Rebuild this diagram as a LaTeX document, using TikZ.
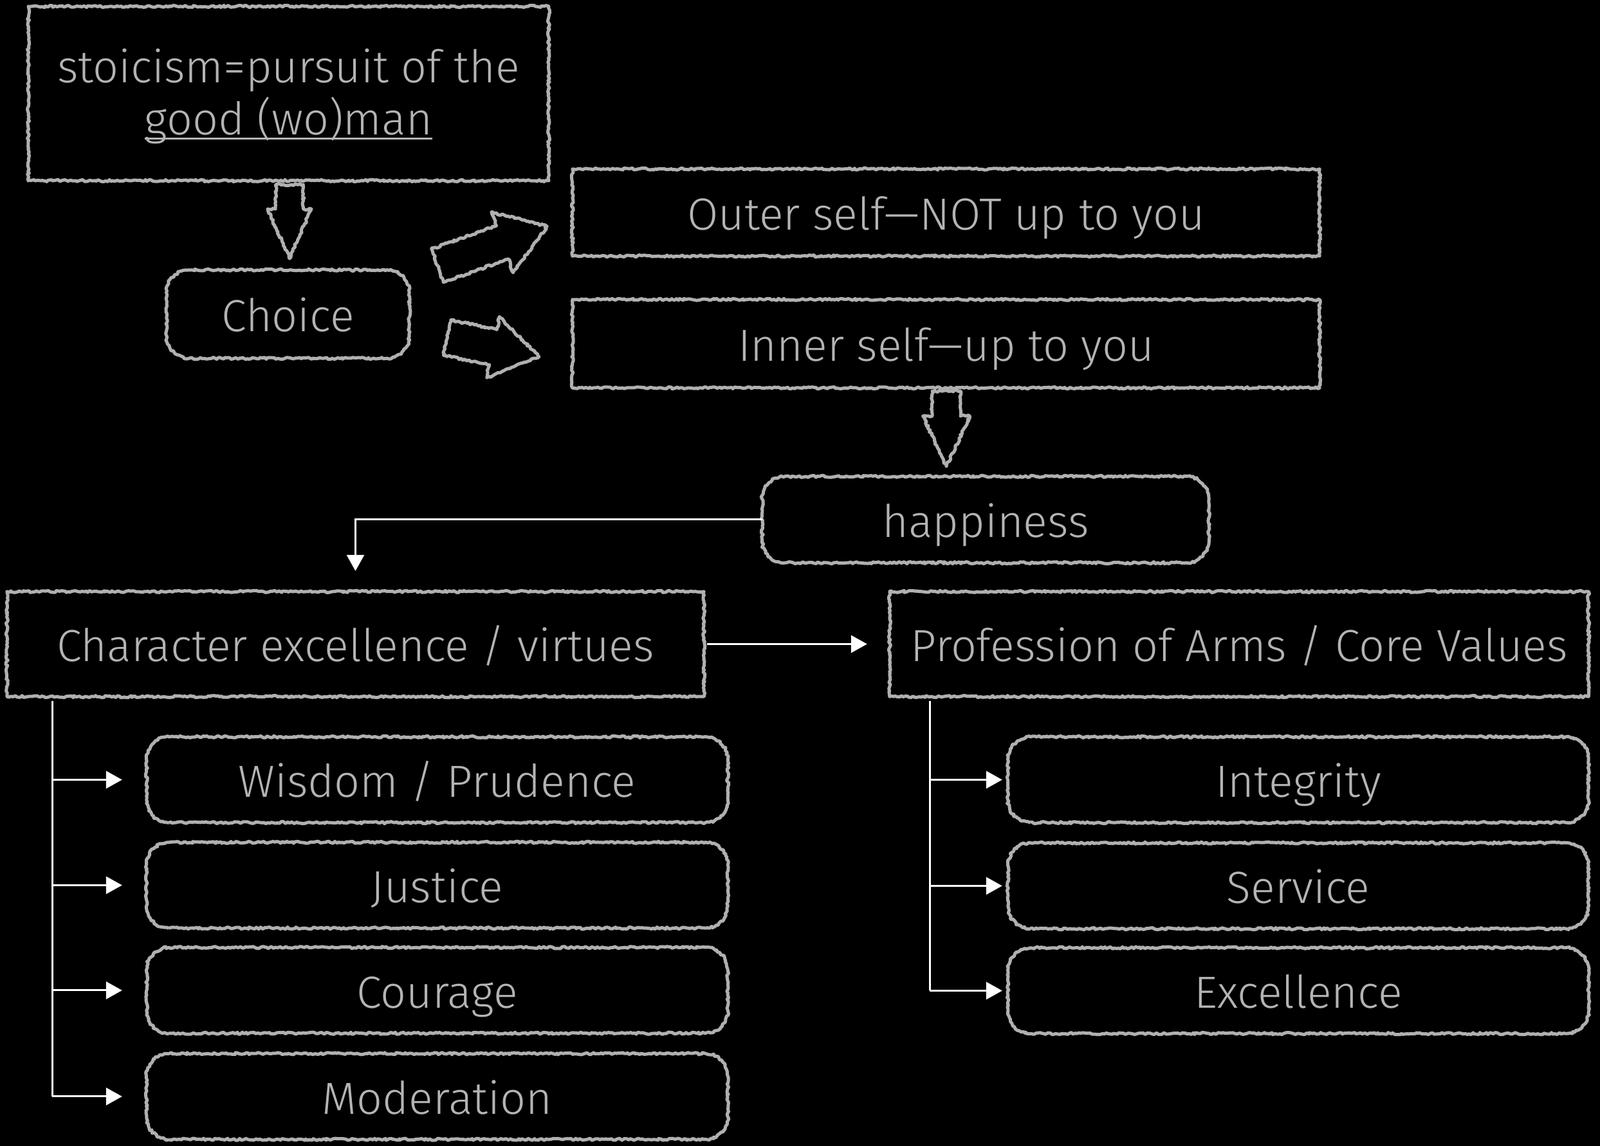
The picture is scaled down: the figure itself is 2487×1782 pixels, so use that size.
\documentclass[tikz,border=0pt]{standalone}
\usepackage{fontspec}
\setmainfont{Fira Sans Light}
\usetikzlibrary{decorations.pathmorphing,arrows.meta}
\definecolor{chalk}{HTML}{B0B0B0}
\definecolor{txt}{HTML}{B4B4B4}
\newcommand\sqb[1]{\draw[chalkline] (#1.south west) rectangle (#1.north east);}
\newcommand\rdb[1]{\draw[chalkline] ([xshift=35pt]#1.south west) -- ([xshift=-35pt]#1.south east) arc[start angle=-90,end angle=0,radius=35pt] -- ([yshift=-35pt]#1.north east) arc[start angle=0,end angle=90,radius=35pt] -- ([xshift=35pt]#1.north west) arc[start angle=90,end angle=180,radius=35pt] -- ([yshift=35pt]#1.south west) arc[start angle=180,end angle=270,radius=35pt] -- cycle;}
\newcommand\ulx[1]{\setbox0\hbox{#1}\rlap{\rule[-0.1em]{\wd0}{2.5pt}}\box0}
\begin{document}
\begin{tikzpicture}[x=1pt,y=1pt,
  chalkline/.style={draw=chalk,line width=5pt,line join=round,decorate,decoration={random steps,segment length=3pt,amplitude=1.6pt}},
  box/.style={minimum width=#1,minimum height=133pt,inner sep=0pt,text=txt,font=\fontsize{70}{81}\selectfont,align=center},
  one/.style={text height=55pt,text depth=0pt},
  conn/.style={draw=white,line width=3pt,-{Triangle[length=25pt,width=27pt]}},
  trunk/.style={draw=white,line width=3pt}]
\fill[black] (0,0) rectangle (2487,1782);
\useasboundingbox (0,0) rectangle (2487,1782);

% nodes
\node[box=809pt,minimum height=271pt] (top) at (448.5,1632) {stoicism=pursuit of the\\\ulx{good (wo)man}};
\node[box=377pt,minimum height=137pt,one] (choice) at (447.5,1293.5) {Choice};
\node[box=1161pt,minimum height=135pt,one] (outer) at (1470.5,1451.5) {Outer self—NOT up to you};
\node[box=1161pt,minimum height=137pt,one] (inner) at (1470.5,1247.5) {Inner self—up to you};
\node[box=694pt,minimum height=134pt,one] (happy) at (1532,974) {happiness};
\node[box=1083pt,minimum height=163pt,one] (char) at (552.5,780.5) {Character excellence / virtues};
\node[box=1086pt,minimum height=163pt,one] (prof) at (1926,780.5) {Profession of Arms / Core Values};
\node[box=903pt,one] (wisdom) at (679.5,569.5) {Wisdom / Prudence};
\node[box=903pt,one] (justice) at (679.5,405.5) {Justice};
\node[box=903pt,one] (courage) at (679.5,242) {Courage};
\node[box=903pt,one] (moder) at (679.5,77) {Moderation};
\node[box=902pt,one] (integ) at (2018,569.5) {Integrity};
\node[box=902pt,one] (serv) at (2018,404.5) {Service};
\node[box=902pt,one] (excel) at (2018,241.5) {Excellence};

% borders
\draw[chalkline] (44,1501) rectangle (853,1772);
\rdb{choice}
\sqb{outer}
\sqb{inner}
\rdb{happy}
\sqb{char}
\sqb{prof}
\rdb{wisdom}
\rdb{justice}
\rdb{courage}
\rdb{moder}
\rdb{integ}
\rdb{serv}
\rdb{excel}

% block arrows
\draw[chalkline,shift={(450,1495)},rotate=-90] (0,-21.5) -- (38,-21.5) -- (38,-34) -- (115,0) -- (38,34) -- (38,21.5) -- (0,21.5) -- cycle;
\draw[chalkline,shift={(680,1369)},rotate=19.7] (0,-27.5) -- (107,-27.5) -- (107,-50) -- (181,0) -- (107,50) -- (107,27.5) -- (0,27.5) -- cycle;
\draw[chalkline,shift={(695,1257)},rotate=-11.8] (0,-28) -- (73,-28) -- (73,-48.5) -- (146,0) -- (73,48.5) -- (73,28) -- (0,28) -- cycle;
\draw[chalkline,shift={(1471,1174)},rotate=-90] (0,-22) -- (39,-22) -- (39,-36.5) -- (117,0) -- (39,36.5) -- (39,22) -- (0,22) -- cycle;

% connectors
\draw[conn,shorten >=32pt] (happy.west) -| (char.north);
\draw[conn,shorten <=5pt,shorten >=35pt] (char.east) -- (prof.west);

\coordinate (ltop) at (81,692);
\draw[trunk] (ltop) -- (ltop |- moder.west);
\foreach \b in {wisdom,justice,courage,moder}
  \draw[conn,shorten >=38pt] (ltop |- \b.west) -- (\b.west);

\coordinate (rtop) at (1445,692);
\draw[trunk] (rtop) -- (rtop |- excel.west);
\foreach \b in {integ,serv,excel}
  \draw[conn,shorten >=9pt] (rtop |- \b.west) -- (\b.west);
\end{tikzpicture}
\end{document}
